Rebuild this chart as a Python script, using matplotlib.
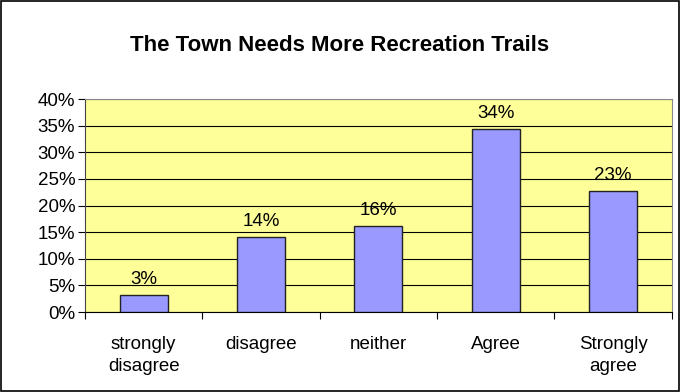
import matplotlib.pyplot as plt
from matplotlib.patches import Rectangle
from matplotlib.ticker import FixedLocator

categories = ['strongly\ndisagree', 'disagree', 'neither', 'Agree', 'Strongly\nagree']
values = [3.2, 14.1, 16.1, 34.4, 22.7]
yticks = [0, 5, 10, 15, 20, 25, 30, 35, 40]

plt.rcParams['font.family'] = ['Liberation Sans', 'DejaVu Sans']

fig = plt.figure(figsize=(6.8, 3.92), dpi=100)
ax = fig.add_axes([0.125, 0.204, 0.863, 0.543])
ax.set_facecolor('#ffff99')

x = list(range(len(categories)))
bars = ax.bar(x, values, width=0.41, color='#9999ff', edgecolor='#222222',
              linewidth=1.0, zorder=3)
for b, v in zip(bars, values):
    ax.annotate(f'{round(v)}%', (b.get_x() + b.get_width() / 2, v),
                xytext=(0, 5), textcoords='offset points',
                ha='center', va='bottom', fontsize=13.5, zorder=4)

ax.set_xlim(-0.5, len(categories) - 0.5)
ax.set_ylim(0, 40)
ax.set_yticks(yticks)
ax.set_yticklabels([f'{t}%' for t in yticks], fontsize=13.5)
ax.yaxis.grid(True, color='black', linewidth=0.8, zorder=1)
ax.set_axisbelow(True)

ax.set_xticks(x)
ax.set_xticklabels(categories, fontsize=13.5, linespacing=1.45)
ax.tick_params(axis='x', length=0, pad=17)
ax.xaxis.set_minor_locator(FixedLocator([i - 0.5 for i in range(len(categories) + 1)]))
ax.tick_params(axis='x', which='minor', length=5, width=0.8, direction='out')
ax.tick_params(axis='y', length=5, width=0.8, direction='out', pad=2)

for s in ['top', 'right']:
    ax.spines[s].set_color('#888888')
ax.spines['left'].set_color('#444444')
ax.spines['bottom'].set_color('black')

fig.text(0.5, 0.885, 'The Town Needs More Recreation Trails', ha='center',
         va='center', fontsize=16, fontweight='bold')

fig.patches.append(Rectangle((0.002, 0.003), 0.996, 0.994, transform=fig.transFigure,
                             fill=False, edgecolor='black', linewidth=1.2))

fig.savefig('out.png', dpi=100)
